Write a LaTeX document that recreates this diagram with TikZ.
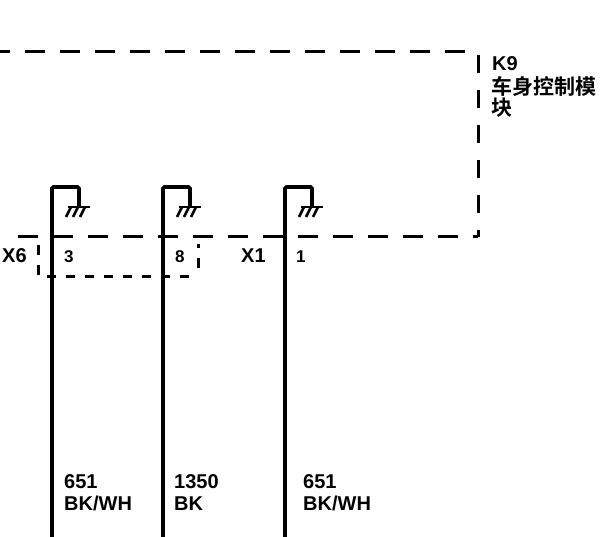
\documentclass[tikz,border=0pt]{standalone}
\usepackage{fontspec}
\setmainfont{Liberation Sans}
\newfontfamily\cjkfont{Noto Sans CJK SC}[BoldFont={* Bold}]
\tikzset{
  txt/.style={anchor=base west, inner sep=0pt, font=\fontsize{20}{24}\selectfont\bfseries},
  pin/.style={anchor=base west, inner sep=0pt, font=\fontsize{17}{20}\selectfont\bfseries},
  wire/.style={line width=3.6pt, rounded corners=1.5pt},
  gnd/.style={line width=2.6pt},
  module/.style={line width=3pt},
}
\begin{document}
\begin{tikzpicture}[x=1pt, y=-1pt]

\useasboundingbox (0, 0) rectangle (605, 537);

%module outline
\draw[module, dash pattern=on 20pt off 15pt, dash phase=10pt] (0, 52) -- (478, 52);
\draw[module, dash pattern=on 18pt off 17pt] (478, 55) -- (478, 237);
\draw[module, dash pattern=on 20pt off 15pt, dash phase=15pt] (478, 237) -- (5, 237);

%connector X6
\draw[module, dash pattern=on 10pt off 10pt] (38, 245) -- (38, 277);
\draw[module, dash pattern=on 9pt off 10pt] (47, 277) -- (197, 277);
\draw[module, dash pattern=on 4pt off 10pt on 10pt off 99pt] (198, 244) -- (198, 268);

%wires with ground
\foreach \n/\xa in {1/52, 2/163, 3/285}
{
\coordinate (bot\n) at (\xa, 537);
\coordinate (top\n) at (\xa, 187);
\coordinate (drop\n) at (\xa+27, 187);
\coordinate (gnd\n) at (\xa+27, 208);
\draw[wire] (bot\n) -- (top\n) -- (drop\n) -- (gnd\n);
\draw[gnd] (\xa+16, 207) -- (\xa+38, 207);
\draw[gnd] (\xa+19, 207) -- (\xa+14, 217);
\draw[gnd] (\xa+26, 207) -- (\xa+21, 217);
\draw[gnd] (\xa+33, 207) -- (\xa+28, 217);
};

\node[txt] (k9) at (492, 71) {K9};
\node[txt, font=\fontsize{21}{24}\cjkfont\bfseries] (name1) at (491, 95) {车身控制模};
\node[txt, font=\fontsize{21}{24}\cjkfont\bfseries] (name2) at (491, 116) {块};

\node[txt] (x6) at (2, 263) {X6};
\node[txt] (x1) at (241, 263) {X1};
\node[pin] (pin3) at (64, 263) {3};
\node[pin] (pin8) at (175, 263) {8};
\node[pin] (pin1) at (296, 263) {1};

\node[txt] (num1) at (64, 488) {651};
\node[txt] (col1) at (64, 510) {BK/WH};
\node[txt] (num2) at (174, 488) {1350};
\node[txt] (col2) at (174, 510) {BK};
\node[txt] (num3) at (303, 488) {651};
\node[txt] (col3) at (303, 510) {BK/WH};

\end{tikzpicture}
\end{document}
